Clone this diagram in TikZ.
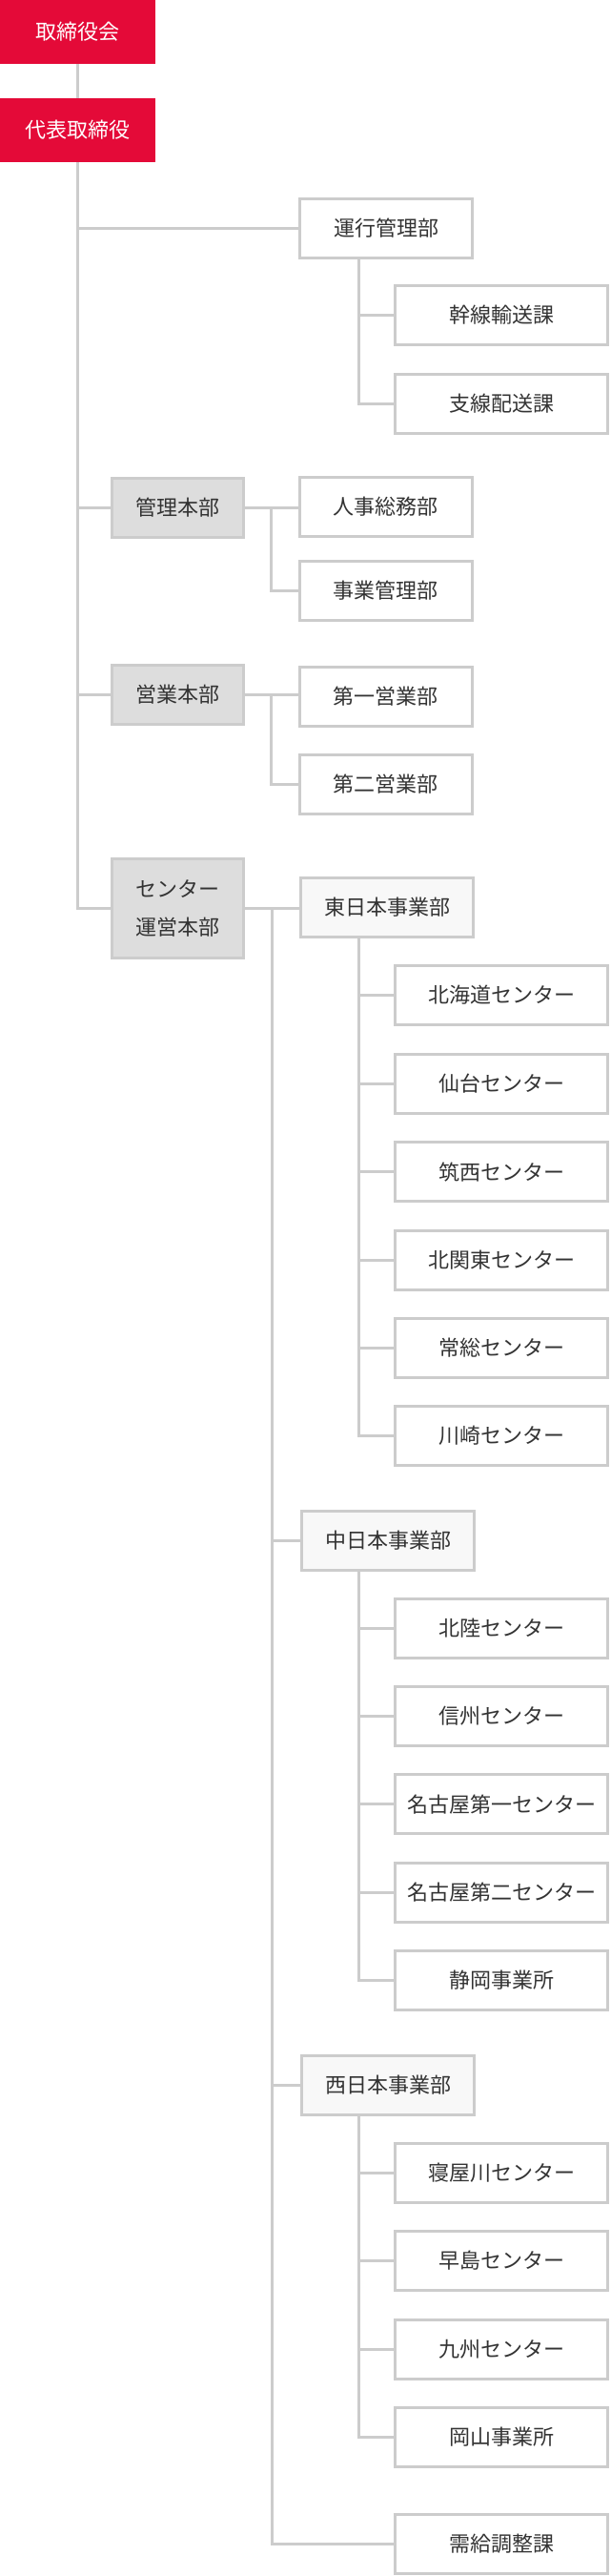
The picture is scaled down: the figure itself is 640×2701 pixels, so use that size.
\documentclass[tikz,border=0pt]{standalone}
\usepackage{fontspec}
\setmainfont{Noto Sans CJK JP}
\usetikzlibrary{calc}
\definecolor{brandred}{HTML}{E40A38}
\definecolor{linegray}{HTML}{CCCCCC}
\definecolor{hqfill}{HTML}{DDDDDD}
\definecolor{regfill}{HTML}{F8F8F8}
\definecolor{txt}{HTML}{333333}
\tikzset{
  base/.style={inner sep=0pt, align=center, font=\fontsize{22}{40}\selectfont, text=txt},
  redbox/.style={base, fill=brandred, text=white, minimum width=163pt, minimum height=67pt, outer sep=0pt},
  framed/.style={base, draw=linegray, line width=3pt, minimum height=62pt},
  deptbox/.style={framed, fill=white, minimum width=181pt},
  leafbox/.style={framed, fill=white, minimum width=223pt},
  hqbox/.style={framed, fill=hqfill, minimum width=138pt},
  regbox/.style={framed, fill=regfill, minimum width=181pt},
  conn/.style={draw=linegray, line width=3pt},
}
\begin{document}
\begin{tikzpicture}[x=1pt, y=-1pt]
\useasboundingbox (0,0) rectangle (640,2701);
% columns
\coordinate (colL) at (376,0);
% top
\node[redbox] (board) at (81.5,33.5) {取締役会};
\node[redbox] (ceo) at (81.5,136.5) {代表取締役};
% 運行管理部
\node[deptbox] (unkou) at (405,239.5) {運行管理部};
\node[leafbox] (kansen) at (526,330.5) {幹線輸送課};
\node[leafbox] (shisen) at (526,423.2) {支線配送課};
% 管理本部
\node[hqbox] (kanri) at (186,532.5) {管理本部};
\node[deptbox] (jinji) at (404.5,531.5) {人事総務部};
\node[deptbox] (jigyo) at (404.5,619.2) {事業管理部};
% 営業本部
\node[hqbox] (eigyo) at (186,728.5) {営業本部};
\node[deptbox] (dai1) at (404.5,730.3) {第一営業部};
\node[deptbox] (dai2) at (404.5,822.5) {第二営業部};
% センター運営本部
\node[hqbox, minimum height=104pt] (center) at (186,952.5) {センター\\運営本部};
\node[regbox] (higashi) at (406,951.2) {東日本事業部};
\node[leafbox] (hokkaido) at (526,1043.5) {北海道センター};
\node[leafbox] (sendai) at (526,1136.5) {仙台センター};
\node[leafbox] (chikusei) at (526,1228.8) {筑西センター};
\node[leafbox] (kitakanto) at (526,1321) {北関東センター};
\node[leafbox] (joso) at (526,1413.3) {常総センター};
\node[leafbox] (kawasaki) at (526,1505.5) {川崎センター};
\node[regbox] (naka) at (407,1615) {中日本事業部};
\node[leafbox] (hokuriku) at (526,1707) {北陸センター};
\node[leafbox] (shinshu) at (526,1799.3) {信州センター};
\node[leafbox] (nagoya1) at (526,1891.6) {名古屋第一センター};
\node[leafbox] (nagoya2) at (526,1984) {名古屋第二センター};
\node[leafbox] (shizuoka) at (526,2076) {静岡事業所};
\node[regbox] (nishi) at (407,2186.2) {西日本事業部};
\node[leafbox] (neyagawa) at (526,2278.2) {寝屋川センター};
\node[leafbox] (hayashima) at (526,2370.5) {早島センター};
\node[leafbox] (kyushu) at (526,2463.3) {九州センター};
\node[leafbox] (okayama) at (526,2555.5) {岡山事業所};
\node[leafbox] (jukyu) at (526,2667.2) {需給調整課};
% junctions
\coordinate (j1) at ($(kanri.east)!0.5!(jinji.west)$);
\coordinate (j2) at ($(eigyo.east)!0.5!(dai1.west)$);
\coordinate (j3) at ($(center.east)!0.5!(higashi.west)$);
% connectors
\draw[conn] (board.south) -- (ceo.north);
\draw[conn] (ceo.south) |- (center.west);
\draw[conn] (ceo.south) |- (unkou.west);
\draw[conn] (ceo.south) |- (kanri.west);
\draw[conn] (ceo.south) |- (eigyo.west);
\draw[conn] (unkou.south -| colL) |- (shisen.west);
\draw[conn] (unkou.south -| colL) |- (kansen.west);
\draw[conn] (kanri.east) -- (kanri.east -| jinji.west);
\draw[conn] (j1) |- (jigyo.west);
\draw[conn] (eigyo.east) -- (eigyo.east -| dai1.west);
\draw[conn] (j2) |- (dai2.west);
\draw[conn] (center.east) -- (center.east -| higashi.west);
\draw[conn] (j3) |- (jukyu.west);
\draw[conn] (j3) |- (naka.west);
\draw[conn] (j3) |- (nishi.west);
\foreach \n in {hokkaido,sendai,chikusei,kitakanto,joso,kawasaki}
  \draw[conn] (higashi.south -| colL) |- (\n.west);
\foreach \n in {hokuriku,shinshu,nagoya1,nagoya2,shizuoka}
  \draw[conn] (naka.south -| colL) |- (\n.west);
\foreach \n in {neyagawa,hayashima,kyushu,okayama}
  \draw[conn] (nishi.south -| colL) |- (\n.west);
\end{tikzpicture}
\end{document}
